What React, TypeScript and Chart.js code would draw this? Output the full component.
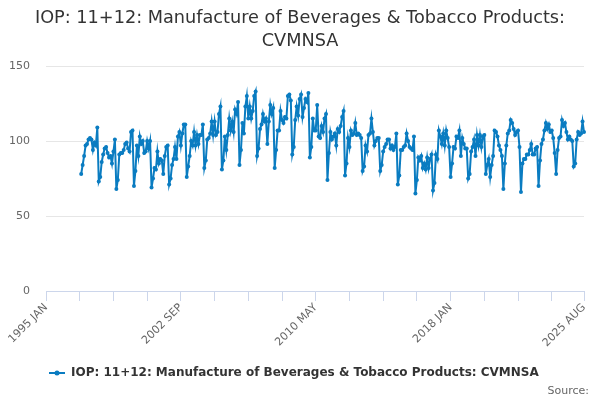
import React, { useEffect, useRef } from "react";
import { Chart, registerables } from "chart.js";

Chart.register(...registerables);

const TITLE_LINES = ["IOP: 11+12: Manufacture of Beverages & Tobacco Products:", "CVMNSA"];
const SERIES_NAME = "IOP: 11+12: Manufacture of Beverages & Tobacco Products: CVMNSA";
const SOURCE_TEXT = "Source:";
const MONTHS = ["JAN", "FEB", "MAR", "APR", "MAY", "JUN", "JUL", "AUG", "SEP", "OCT", "NOV", "DEC"];
const FIRST_YEAR = 1995;
const LAST_YEAR = 2025;
const LAST_MONTH_INDEX = 7; // AUG

const TICK_POSITIONS = [0, 23, 46, 69, 92, 115, 138, 161, 184, 207, 230, 253, 276, 299, 322, 345, 367];
const LABELED_TICKS = [0, 92, 184, 276, 367];
const Y_MIN = 0;
const Y_MAX = 150;
const Y_STEP = 50;

const v1995 = [null, null, null, null, null, null, null, null, null, null, null, null];
const v1996 = [null, null, null, null, null, null, null, null, null, null, null, null];
const v1997 = [78, 84, 90, 97, 98, 101, 102, 101, 94, 99, 97, 109];
const v1998 = [73, 76, 86, 91, 95, 96, 92, 89, 90, 85, 93, 101];
const v1999 = [68, 74, 91, 92, 92, 94, 98, 99, 95, 93, 106, 107];
const v2000 = [70, 80, 97, 90, 103, 98, 100, 92, 93, 100, 95, 100];
const v2001 = [69, 75, 82, 81, 93, 85, 88, 87, 78, 90, 96, 97];
const v2002 = [71, 75, 84, 88, 96, 88, 103, 106, 97, 105, 111, 111];
const v2003 = [76, 83, 90, 100, 97, 106, 97, 104, 98, 104, 104, 111];
const v2004 = [82, 87, 101, 102, 105, 113, 104, 113, 104, 106, 118, 123];
const v2005 = [81, 87, 103, 94, 104, 115, 107, 113, 106, 121, 118, 126];
const v2006 = [84, 94, 112, 105, 123, 130, 115, 123, 115, 120, 130, 133];
const v2007 = [90, 95, 108, 111, 118, 113, 115, 98, 113, 124, 118, 122];
const v2008 = [82, 94, 107, 107, 120, 114, 112, 116, 115, 130, 131, 127];
const v2009 = [91, 96, 114, 123, 117, 128, 131, 116, 122, 128, 126, 132];
const v2010 = [89, 96, 115, 107, 107, 124, 103, 102, 110, 106, 115, 118];
const v2011 = [74, 92, 106, 101, 103, 105, 97, 108, 106, 110, 116, 120];
const v2012 = [77, 85, 102, 96, 107, 104, 105, 112, 104, 105, 104, 102];
const v2013 = [80, 83, 97, 93, 104, 105, 115, 106, 97, 100, 102, 102];
const v2014 = [80, 84, 93, 96, 98, 101, 101, 95, 97, 94, 96, 105];
const v2015 = [71, 77, 94, 94, 96, 97, 105, 100, 96, 95, 94, 103];
const v2016 = [65, 74, 89, 87, 90, 82, 85, 81, 89, 82, 88, 91];
const v2017 = [67, 72, 91, 88, 107, 103, 98, 105, 97, 107, 102, 96];
const v2018 = [76, 85, 96, 95, 103, 102, 107, 90, 102, 98, 95, 95];
const v2019 = [75, 78, 93, 96, 101, 90, 104, 97, 104, 96, 103, 104];
const v2020 = [78, 84, 88, 76, 84, 90, 107, 106, 103, 97, 94, 90];
const v2021 = [68, 85, 97, 105, 107, 114, 112, 108, 104, 106, 107, 96];
const v2022 = [66, 85, 88, 88, 91, 91, 94, 98, 91, 91, 95, 96];
const v2023 = [70, 87, 98, 101, 107, 112, 108, 111, 106, 107, 102, 92];
const v2024 = [78, 94, 102, 103, 114, 110, 112, 106, 101, 103, 101, 100];
const v2025 = [83, 85, 101, 106, 104, 105, 113, 106];

const YEAR_VALUES = [
  v1995, v1996, v1997, v1998, v1999, v2000, v2001, v2002, v2003, v2004, v2005,
  v2006, v2007, v2008, v2009, v2010, v2011, v2012, v2013, v2014, v2015, v2016,
  v2017, v2018, v2019, v2020, v2021, v2022, v2023, v2024, v2025,
];

const categories: string[] = [];
for (let y = FIRST_YEAR; y <= LAST_YEAR; y++) {
  const lastM = y === LAST_YEAR ? LAST_MONTH_INDEX : 11;
  for (let m = 0; m <= lastM; m++) categories.push(`${y} ${MONTHS[m]}`);
}
const seriesValues: (number | null)[] = ([] as (number | null)[]).concat(...YEAR_VALUES);

const LINE_COLOR = "#0a7cc1";
const FONT = "'DejaVu Sans', sans-serif";

const decorPlugin = {
  id: "decor",
  afterDraw(chart: any) {
    const ctx = chart.ctx as CanvasRenderingContext2D;
    ctx.save();
    // Title
    ctx.fillStyle = "#333333";
    ctx.font = `17.7px ${FONT}`;
    ctx.textAlign = "center";
    ctx.textBaseline = "middle";
    ctx.fillText(TITLE_LINES[0], 300, 18);
    ctx.fillText(TITLE_LINES[1], 300, 41);
    // Legend
    const ly = 373;
    ctx.strokeStyle = LINE_COLOR;
    ctx.lineWidth = 2;
    ctx.beginPath();
    ctx.moveTo(49, ly);
    ctx.lineTo(65, ly);
    ctx.stroke();
    ctx.fillStyle = LINE_COLOR;
    ctx.beginPath();
    ctx.arc(57, ly, 2.5, 0, Math.PI * 2);
    ctx.fill();
    ctx.fillStyle = "#333333";
    ctx.font = `bold 12px ${FONT}`;
    ctx.textAlign = "left";
    ctx.fillText(SERIES_NAME, 71, ly);
    // Source
    ctx.fillStyle = "#666666";
    ctx.font = `11px ${FONT}`;
    ctx.textAlign = "right";
    ctx.fillText(SOURCE_TEXT, 589, 391);
    ctx.restore();
  },
};

export default function App() {
  const ref = useRef<HTMLCanvasElement | null>(null);
  useEffect(() => {
    document.body.style.margin = "0";
    if (!ref.current) return;
    const chart = new Chart(ref.current, {
      type: "line",
      data: {
        labels: categories,
        datasets: [
          {
            label: SERIES_NAME,
            data: seriesValues,
            borderColor: LINE_COLOR,
            backgroundColor: LINE_COLOR,
            borderWidth: 2,
            pointRadius: 2,
            pointBorderWidth: 0,
            pointBackgroundColor: LINE_COLOR,
            tension: 0,
            spanGaps: false,
          },
        ],
      },
      options: {
        animation: false,
        responsive: false,
        maintainAspectRatio: false,
        layout: { padding: { top: 66, right: 16, left: 0, bottom: 0 } },
        plugins: {
          legend: { display: false },
          title: { display: false },
          tooltip: { enabled: false },
        },
        scales: {
          x: {
            type: "category",
            offset: false,
            afterBuildTicks(scale: any) {
              scale.ticks = TICK_POSITIONS.map((v) => ({ value: v }));
            },
            afterFit(scale: any) {
              scale.height = 109;
            },
            ticks: {
              autoSkip: false,
              minRotation: 45,
              maxRotation: 45,
              padding: 0,
              color: "#666666",
              font: { family: FONT, size: 11 },
              callback(value: any) {
                const i = Number(value);
                return LABELED_TICKS.includes(i) ? categories[i] : "";
              },
            },
            grid: {
              display: true,
              drawOnChartArea: false,
              drawTicks: true,
              tickLength: 10,
              color: "#ccd6eb",
            },
            border: { display: true, color: "#ccd6eb", width: 1 },
          },
          y: {
            min: Y_MIN,
            max: Y_MAX,
            afterFit(scale: any) {
              scale.width = 46;
            },
            ticks: {
              stepSize: Y_STEP,
              padding: 16,
              color: "#666666",
              font: { family: FONT, size: 11 },
            },
            grid: { color: "#e6e6e6", drawTicks: false },
            border: { display: false },
          },
        },
      },
      plugins: [decorPlugin],
    });
    return () => chart.destroy();
  }, []);
  return (
    <div style={{ width: 600, height: 400, position: "relative", background: "#fff" }}>
      <canvas ref={ref} width={600} height={400} style={{ width: 600, height: 400, display: "block" }} />
    </div>
  );
}
